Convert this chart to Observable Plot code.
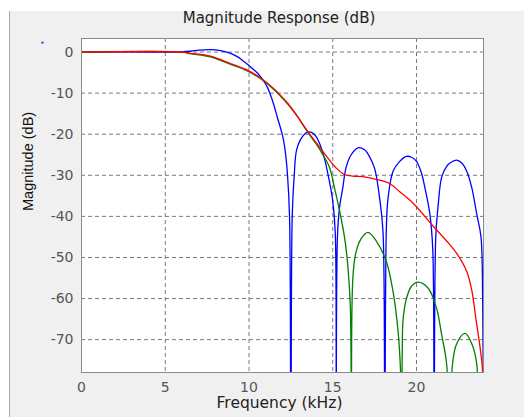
<!DOCTYPE html>
<html>
<head>
<meta charset="utf-8">
<script src="https://cdn.jsdelivr.net/npm/d3@7"></script>
<script src="https://cdn.jsdelivr.net/npm/@observablehq/plot@0.6"></script>
<style>
  html, body { margin: 0; padding: 0; background: #ffffff; }
  #panel { position: absolute; left: 9px; top: 11px; width: 515px; height: 406px; background: #f0f0f0; border-left: 1px solid #a8a8a8; }
  #title { position: absolute; left: 75px; top: 3px; width: 408px; height: 30px; line-height: 30px; text-align: center;
           font-family: "DejaVu Sans", sans-serif; font-size: 15px; color: #222; }
  #chart { position: absolute; left: 0; top: 30px; width: 524px; height: 387px; }
</style>
</head>
<body>
<div id="panel"></div>
<div id="title">Magnitude Response (dB)</div>
<div id="chart"></div>
<script>
// ---- data ----
const xTicks = [0, 5, 10, 15, 20];
const xTickLabels = ["0", "5", "10", "15", "20"];
const yTicks = [0, -10, -20, -30, -40, -50, -60, -70];
const yTickLabels = ["0", "-10", "-20", "-30", "-40", "-50", "-60", "-70"];

// blue filter (kHz, dB)
const blueFreq = [0, 2, 4, 5.5, 6.5, 7.0, 7.7, 8.3, 8.9, 9.3, 9.6, 10.0, 10.5, 10.8, 11.1, 11.4, 11.7, 12.0, 12.15, 12.3, 12.42, 12.5,
  12.58, 12.7, 12.85, 13.2, 13.5, 13.75, 14.0, 14.25, 14.5, 14.8, 15.0, 15.15, 15.2,
  15.28, 15.4, 15.6, 15.8, 16.1, 16.5, 16.9, 17.2, 17.5, 17.8, 18.0, 18.1,
  18.2, 18.3, 18.6, 19.0, 19.4, 19.7, 20.0, 20.3, 20.5, 20.8, 20.97, 21.05,
  21.15, 21.3, 21.5, 21.8, 22.0, 22.4, 22.7, 23.0, 23.3, 23.6, 23.85, 23.95, 24];
const blueMag = [0, 0.05, 0, 0, 0.2, 0.45, 0.6, 0.35, -0.3, -1.1, -2.0, -3.3, -5.1, -6.6, -8.6, -11.8, -16.0, -20.3, -23.7, -30, -40, -100,
  -40, -30, -23.7, -20.5, -19.5, -19.6, -20.5, -22.6, -25.8, -31.5, -36.3, -44, -100,
  -45, -38, -33, -28, -25, -23.3, -23.8, -25.5, -28.3, -35.6, -43.7, -100,
  -43, -35.6, -29, -26.6, -25.4, -25.6, -26.6, -29.5, -33, -39.5, -48, -100,
  -45, -37, -30.5, -27.8, -27, -26.3, -27, -29, -33, -39.5, -45, -60, -100];

// green filter
const greenFreq = [0, 6.0, 6.5, 7.7, 8.9, 9.9, 10.8, 11.4, 11.9, 12.3, 12.9, 13.5, 14.0, 14.4, 14.8, 15.1, 15.4, 15.7, 15.9, 16.05, 16.12,
  16.2, 16.4, 16.7, 17.1, 17.6, 18.2, 18.6, 18.9, 19.05, 19.1,
  19.15, 19.2, 19.4, 19.7, 20.1, 20.7, 21.2, 21.5, 21.8, 22.0,
  22.15, 22.4, 22.9, 23.3, 23.6, 23.75, 24];
const greenMag = [0, 0, -0.4, -1.2, -3.0, -4.6, -6.8, -8.8, -10.8, -12.6, -15.7, -19.5, -22.3, -24.9, -28, -33, -38.5, -45, -52, -62, -100,
  -55, -48.5, -45.4, -43.9, -46, -51, -58.3, -68, -78, -100,
  -72, -65, -60, -57, -56, -57.5, -62.4, -68.8, -76, -100,
  -76, -71, -68.5, -71, -76, -100, -100];

// red filter
const redFreq = [0, 6.0, 6.5, 7.7, 8.9, 9.9, 10.8, 11.4, 11.9, 12.3, 12.85, 13.5, 14.0, 14.6, 15.2, 15.7, 16.2, 16.8, 17.6, 18.4,
  19.0, 19.8, 21.0, 21.8, 22.4, 23.0, 23.3, 23.55, 23.8, 23.95, 24];
const redMag = [0, 0, -0.3, -1.0, -2.8, -4.4, -6.6, -8.6, -10.6, -12.4, -15.4, -19.3, -22.0, -25.2, -28.2, -29.8, -30.2, -30.3, -31, -32,
  -34, -36.8, -42.4, -46, -49, -53.4, -58, -65, -72, -78, -100];

// stray marker in the top-left corner of the figure
const markerFreq = [-2.33];
const markerMag = [2.3];

// ---- build tables ----
const toRows = (f, m) => f.map((x, i) => ({f: x, db: m[i]}));
const blue = toRows(blueFreq, blueMag);
const green = toRows(greenFreq, greenMag);
const red = toRows(redFreq, redMag);
const marker = toRows(markerFreq, markerMag);

const gridStyle = {stroke: "#7a7a7a", strokeWidth: 1, strokeDasharray: "4,3"};
const lineOpts = {x: "f", y: "db", strokeWidth: 1.3, curve: "catmull-rom", clip: true};

const chart = Plot.plot({
  width: 524,
  height: 387,
  marginLeft: 81,
  marginRight: 41,
  marginTop: 8,
  marginBottom: 45,
  style: {background: "transparent", fontFamily: "DejaVu Sans, sans-serif", fontSize: "14px", color: "#555", overflow: "visible"},
  x: {domain: [0, 24], ticks: xTicks, tickFormat: d => xTickLabels[xTicks.indexOf(d)], tickSize: 0, tickPadding: 10, label: null},
  y: {domain: [-78, 3.3], ticks: yTicks, tickFormat: d => yTickLabels[yTicks.indexOf(d)], tickSize: 0, tickPadding: 8, label: null},
  marks: [
    Plot.frame({fill: "white"}),
    Plot.ruleX(xTicks.slice(1), gridStyle),
    Plot.ruleY(yTicks, gridStyle),
    Plot.line(blue, {...lineOpts, stroke: "#0000ff"}),
    Plot.line(green, {...lineOpts, stroke: "#008000"}),
    Plot.line(red, {...lineOpts, stroke: "#ff0000"}),
    Plot.frame({stroke: "#8a8a8a", strokeWidth: 1}),
    Plot.dot(marker, {x: "f", y: "db", r: 1.2, fill: "#3a3aff", stroke: null}),
    Plot.text(["Frequency (kHz)"], {frameAnchor: "bottom", dx: -3, dy: 35.5, fontFamily: "DejaVu Sans", fontSize: 15.5, fill: "#222"}),
    Plot.text(["Magnitude (dB)"], {frameAnchor: "left", rotate: -90, dx: -53.5, dy: 5.5, fontFamily: "Liberation Sans", fontSize: 14.5, fill: "#111"})
  ]
});
document.getElementById("chart").appendChild(chart);
</script>
</body>
</html>
